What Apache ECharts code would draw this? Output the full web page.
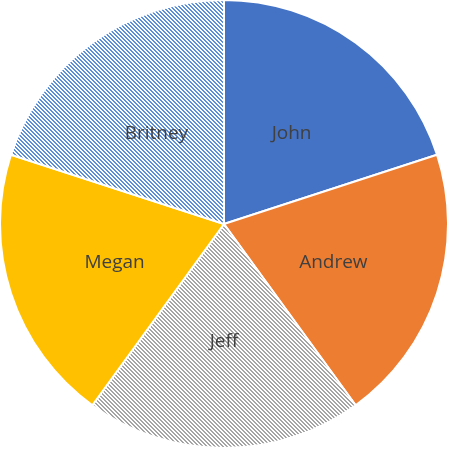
<!DOCTYPE html>
<html>
<head>
<meta charset="utf-8">
<script src="https://cdn.jsdelivr.net/npm/echarts@6/dist/echarts.min.js"></script>
<style>html,body{margin:0;padding:0;background:#fff;}#c{width:449px;height:449px;}</style>
</head>
<body>
<div id="c"></div>
<script>
const names = ['John', 'Andrew', 'Jeff', 'Megan', 'Britney'];
const values = [20, 20, 20, 20, 20];

function hatch(fg, bg) {
  const c = document.createElement('canvas');
  c.width = 4; c.height = 4;
  const g = c.getContext('2d');
  g.fillStyle = bg; g.fillRect(0, 0, 4, 4);
  g.fillStyle = fg;
  for (let i = 0; i < 4; i++) {
    g.fillRect(i, i, 1, 1);
    g.fillRect((i + 1) % 4, i, 1, 1);
  }
  return { image: c, repeat: 'repeat' };
}
const colors = [
  '#4472c4',
  '#ed7d31',
  hatch('#a5a5a5', '#ffffff'),
  '#ffc000',
  hatch('#5b8fd9', '#ffffff')
];
const chart = echarts.init(document.getElementById('c'));
chart.setOption({
  animation: false,
  series: [{
    type: 'pie',
    center: [224, 224],
    radius: [0, 224],
    startAngle: 90,
    clockwise: true,
    data: names.map((n, i) => ({ name: n, value: values[i], itemStyle: { color: colors[i] } })),
    itemStyle: { borderColor: '#ffffff', borderWidth: 2 },
    label: { show: true, position: 'inside', formatter: '{b}', color: '#404040', fontSize: 19, fontFamily: 'Open Sans', offset: [0, 3] },
    labelLine: { show: false },
    emphasis: { disabled: true }
  }]
});
</script>
</body>
</html>
